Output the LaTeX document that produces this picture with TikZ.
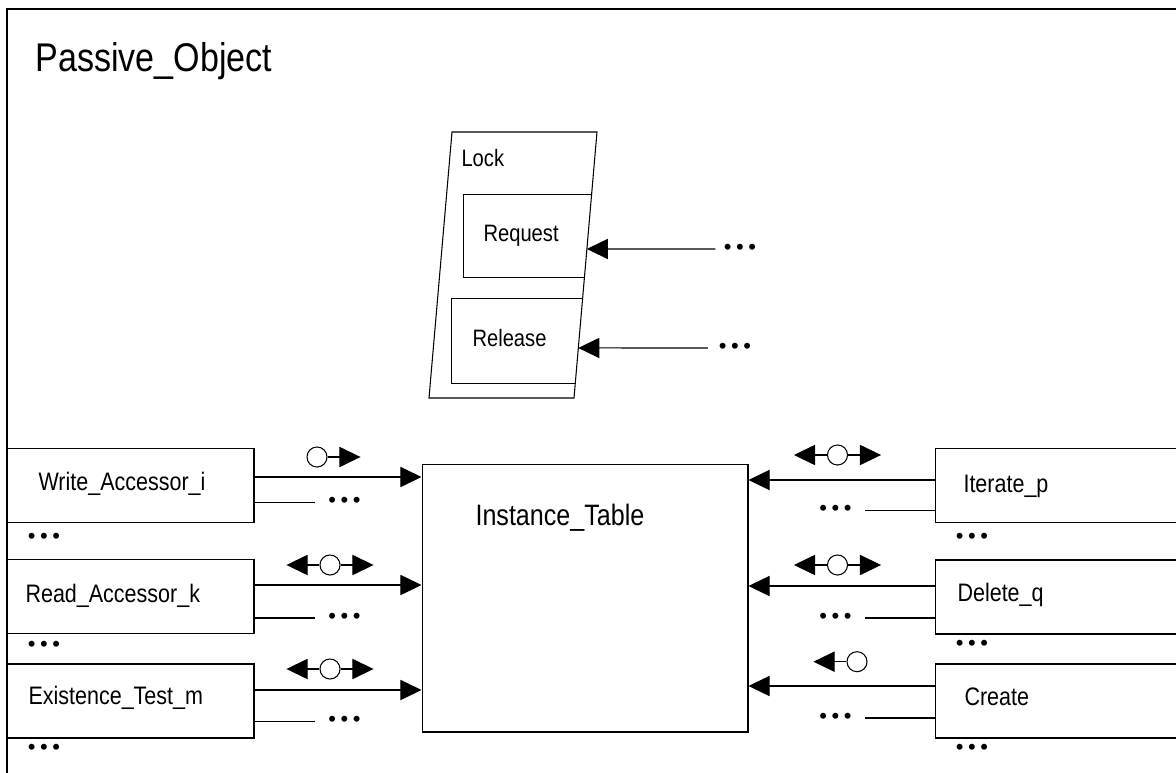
\documentclass[tikz,border=0pt]{standalone}
\usepackage{fontspec}
\newfontfamily\diagfont{Liberation Sans}[FakeStretch=0.85]
\newfontfamily\dotfont{Liberation Sans}
\usetikzlibrary{arrows.meta,calc}
\newcommand{\moredots}{{\dotfont\fontsize{12.5pt}{13pt}\selectfont •\kern2.6pt•\kern2.6pt•}}

\begin{document}
\begin{tikzpicture}[x=0.02cm,y=-0.02cm,line width=0.6pt,
  box/.style={draw,minimum width=4.94cm,minimum height=1.48cm,inner sep=0pt},
  rbox/.style={draw,minimum width=5cm,minimum height=1.48cm,inner sep=0pt},
  txt/.style={font=\diagfont\fontsize{14.4pt}{16pt}\selectfont,inner sep=0pt,anchor=base west},
  small/.style={font=\diagfont\fontsize{13.5pt}{15pt}\selectfont,inner sep=0pt,anchor=base west},
  more/.style={inner sep=0pt},
  flow/.style={-{Triangle[length=12pt,width=11.5pt]}},
  stub/.style={shorten >=7.5pt},
  port/.style={draw,circle,minimum size=11.4pt,inner sep=0pt}]
  \clip (0,0) rectangle (1176,773);
  \fill[white] (0,0) rectangle (1176,773);
  % outer frame, runs off the right and bottom
  \draw (7,9) rectangle (1200,800);
  \node[font=\diagfont\fontsize{22.8pt}{26pt}\selectfont,inner sep=0pt,anchor=base west] (title) at (35,72) {Passive\_Object};

  % Lock
  \coordinate (lock-nw) at (452,132);
  \coordinate (lock-ne) at (597,132);
  \coordinate (lock-se) at (574,398);
  \coordinate (lock-sw) at (429,398);
  \draw (lock-nw) -- (lock-ne) -- (lock-se) -- (lock-sw) -- cycle;
  \node[small] (lock) at (461,167) {Lock};
  \begin{scope}
    \clip (lock-nw) -- (lock-ne) -- (lock-se) -- (lock-sw) -- cycle;
    \node[draw,minimum width=3cm,minimum height=1.66cm,anchor=north west] (req) at (463,194) {};
    \node[draw,minimum width=3cm,minimum height=1.7cm,anchor=north west] (rel) at (451,298) {};
  \end{scope}
  \node[small] (req-lbl) at (483,242) {Request};
  \node[small] (rel-lbl) at (472,347) {Release};
  \node[more] (req-more) at (740,249) {\moredots};
  \node[more] (rel-more) at (735,348) {\moredots};
  \draw[flow,shorten <=4.5pt] (req-more.west) -- (intersection of lock-ne--lock-se and req-more.west--req-more.east);
  \draw[flow,shorten <=6pt] (rel-more.west) -- (intersection of lock-ne--lock-se and rel-more.west--rel-more.east);

  % Instance table
  \node[draw,minimum width=6.52cm,minimum height=5.36cm,inner sep=0pt] (it) at (585,598) {};
  \node[font=\diagfont\fontsize{16.8pt}{19pt}\selectfont,inner sep=0pt,anchor=base west] (it-lbl) at (475,525) {Instance\_Table};

  % Left-hand side
  \node[box] (wa) at (130.5,485.5) {};
  \node[txt] (wa-lbl) at (38,490) {Write\_Accessor\_i};
  \draw[flow] (wa.east) ++(0,-8.5) coordinate (wa-o) -- (wa-o -| it.west);
  \node[more] (wa-more) at ($(wa.east)+(90,17)$) {\moredots};
  \draw[stub] (wa-more.west -| wa.east) -- (wa-more.west);
  \node[port] (wa-port) at (317,457) {};
  \draw[flow] (wa-port.east) -- ++(33,0);
  \node[more] (wa-below) at (44,538) {\moredots};

  \node[box] (ra) at (130.5,596.5) {};
  \node[txt] (ra-lbl) at (25,602) {Read\_Accessor\_k};
  \draw[flow] (ra.east) ++(0,-11.5) coordinate (ra-o) -- (ra-o -| it.west);
  \node[more] (ra-more) at ($(ra.east)+(90,21.5)$) {\moredots};
  \draw[stub] (ra-more.west -| ra.east) -- (ra-more.west);
  \node[port] (ra-port) at (330,565) {};
  \draw[flow] (ra-port.west) -- ++(-33,0);
  \draw[flow] (ra-port.east) -- ++(33,0);
  \node[more] (ra-below) at (44,646) {\moredots};

  \node[box] (et) at (130.5,701) {};
  \node[txt] (et-lbl) at (28,704) {Existence\_Test\_m};
  \draw[flow] (et.east) ++(0,-11) coordinate (et-o) -- (et-o -| it.west);
  \node[more] (et-more) at ($(et.east)+(90,20.7)$) {\moredots};
  \draw[stub] (et-more.west -| et.east) -- (et-more.west);
  \node[port] (et-port) at (330,669) {};
  \draw[flow] (et-port.west) -- ++(-33,0);
  \draw[flow] (et-port.east) -- ++(33,0);
  \node[more] (et-below) at (44,749) {\moredots};

  % Right-hand side
  \node[rbox] (ip) at (1060,485.5) {};
  \node[txt] (ip-lbl) at (963,492) {Iterate\_p};
  \draw[flow] (ip.west) ++(0,-5.5) coordinate (ip-o) -- (ip-o -| it.east);
  \node[more] (ip-more) at ($(ip.west)+(-99,25)$) {\moredots};
  \draw[stub] (ip-more.east -| ip.west) -- (ip-more.east);
  \node[port] (ip-port) at (837.5,455) {};
  \draw[flow] (ip-port.west) -- ++(-33,0);
  \draw[flow] (ip-port.east) -- ++(33,0);
  \node[more] (ip-below) at (972,538) {\moredots};

  \node[rbox] (dq) at (1060,597) {};
  \node[txt] (dq-lbl) at (957,601) {Delete\_q};
  \draw[flow] (dq.west) ++(0,-11) coordinate (dq-o) -- (dq-o -| it.east);
  \node[more] (dq-more) at ($(dq.west)+(-99,21)$) {\moredots};
  \draw[stub] (dq-more.east -| dq.west) -- (dq-more.east);
  \node[port] (dq-port) at (837.5,565) {};
  \draw[flow] (dq-port.west) -- ++(-33,0);
  \draw[flow] (dq-port.east) -- ++(33,0);
  \node[more] (dq-below) at (972,645) {\moredots};

  \node[rbox] (cr) at (1060,701) {};
  \node[txt] (cr-lbl) at (964,705) {Create};
  \draw[flow] (cr.west) ++(0,-15) coordinate (cr-o) -- (cr-o -| it.east);
  \node[more] (cr-more) at ($(cr.west)+(-99,17)$) {\moredots};
  \draw[stub] (cr-more.east -| cr.west) -- (cr-more.east);
  \node[port] (cr-port) at (857,661.7) {};
  \draw[flow] (cr-port.west) -- ++(-33,0);
  \node[more] (cr-below) at (972,749) {\moredots};
\end{tikzpicture}
\end{document}
